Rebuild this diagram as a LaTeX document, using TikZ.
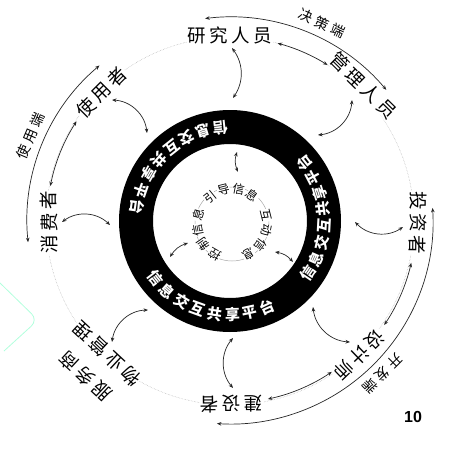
\documentclass[tikz,border=0pt]{standalone}
\usepackage{fontspec}
\newfontfamily\cjk{Noto Sans CJK SC}
\newfontfamily\numfont{Liberation Sans}
\usetikzlibrary{arrows.meta}
\newcommand{\chgap}{\kern3.5pt}
\newcommand{\arcchars}[7]{%
  \foreach \ch [count=\k] in {#7} {%
    \pgfmathsetmacro\ang{#3+(\k-1)*(#4)}%
    \pgfmathsetmacro\rot{\ang+#5}%
    \node[#6, rotate=\rot] (#1\k) at ([shift={(\ang:#2)}]C) {\ch};
  }%
}
\newcommand{\arccharsi}[7]{%
  \foreach \ch [count=\k] in {#7} {%
    \pgfmathsetmacro\ang{#3+(\k-1)*(#4)}%
    \pgfmathsetmacro\rot{\ang+#5}%
    \node[#6, rotate=\rot] (#1\k) at ([shift={(\ang:#2)}]Ci) {\ch};
  }%
}
\newcommand{\wordat}[5]{%
  \pgfmathsetmacro\rot{#3-90}%
  \node[#4, rotate=\rot] (#1) at ([shift={(#3:#2)}]C) {#5};
}
\begin{document}
\begin{tikzpicture}[x=1pt,y=1pt,
  lbl/.style={font=\cjk\fontsize{18.5}{18.5}\selectfont, inner sep=0.8pt, fill=white, text=black},
  endlbl/.style={font=\cjk\fontsize{14}{14}\selectfont, inner sep=0.5pt, text=black},
  ringtxt/.style={font=\cjk\bfseries\fontsize{15}{15}\selectfont, inner sep=0pt, text=white},
  innerlbl/.style={font=\cjk\fontsize{12}{12}\selectfont, inner sep=0.3pt, fill=white, text=black},
  tipx/.tip={Stealth[length=4.5pt,width=3.6pt]},
  link/.style={line width=0.7pt, black!85, tipx-tipx},
  guide/.style={gray!60, line width=0.5pt, densely dotted}
]
\useasboundingbox (0,0) rectangle (463,451);
\coordinate (C) at (230,230);
\coordinate (Ci) at (232,227);

% faint green edge at the left
\draw[green!45!cyan!30, line width=0.8pt, rounded corners=9pt] (0,168) -- (38,131) -- (4,100);

% outer guide circle
\draw[guide] (C) circle[radius=184];

% black ring
\fill[black, even odd rule] (C) circle[radius=111] (C) circle[radius=77];

% inner small circle
\draw[gray!70, line width=0.5pt] (Ci) circle[radius=37];

% ring text (three copies, counterclockwise, tops toward centre)
\arcchars{ra}{94}{96}{10.8}{90}{ringtxt}{信,息,交,互,共,享,平,台}
\arcchars{rb}{94}{-34}{10.3}{90}{ringtxt}{信,息,交,互,共,享,平,台}
\arcchars{rc}{94}{-142.5}{10.8}{90}{ringtxt}{信,息,交,互,共,享,平,台}

% outer labels (reading clockwise)
\wordat{yj}{186}{90}{lbl}{研\chgap 究\chgap 人\chgap 员}
\wordat{gl}{190}{45.5}{lbl}{管\chgap 理\chgap 人\chgap 员}
\wordat{tz}{188}{-0.5}{lbl}{投\chgap 资\chgap 者}
\wordat{sj}{186}{-46}{lbl}{设\chgap 计\chgap 师}
\wordat{js}{183}{-89.5}{lbl}{建\chgap 设\chgap 者}
\wordat{wa}{212}{-133}{lbl}{服\chgap 务\chgap 商}
\wordat{wb}{181}{-133}{lbl}{物\chgap 业\chgap 管\chgap 理}
\wordat{xf}{181}{180.5}{lbl}{消\chgap 费\chgap 者}
\wordat{sy}{182}{135}{lbl}{使\chgap 用\chgap 者}

% end labels
\wordat{jc}{218}{65}{endlbl}{决\chgap 策\chgap 端}
\wordat{syd}{217}{157}{endlbl}{使\chgap 用\chgap 端}
\wordat{kf}{216}{-45}{endlbl}{开\chgap 发\chgap 端}

% inner labels
\arccharsi{yd}{35}{129}{-25}{-90}{innerlbl}{引,导,信,息}
\arccharsi{hd}{35}{14}{-25}{-90}{innerlbl}{互,动,信,息}
\arccharsi{kz}{35}{240}{-25}{-90}{innerlbl}{控,制,信,息}

% outer end arcs
\draw[link] ([shift={(97:204)}]C) arc[start angle=97, end angle=40, radius=204];
\draw[link] ([shift={(130:203)}]C) arc[start angle=130, end angle=186, radius=203];
\draw[link] ([shift={(3.7:203)}]C) arc[start angle=3.7, end angle=-93.7, radius=203];

% arrows along the guide circle
\draw[link] ([shift={(75:184)}]C) arc[start angle=75, end angle=58, radius=184];
\draw[link] ([shift={(-13:186)}]C) arc[start angle=-13, end angle=-34, radius=186];
\draw[link] ([shift={(-56:182)}]C) arc[start angle=-56, end angle=-78, radius=182];
\draw[link] ([shift={(169:183)}]C) arc[start angle=169, end angle=147, radius=183];

% radial links
\coordinate (a1) at (232,403); \coordinate (b1) at (233,353);
\coordinate (a2) at (352,351); \coordinate (b2) at (318,316);
\coordinate (a3) at (112,351); \coordinate (b3) at (147,318);
\coordinate (a4) at (62,229);  \coordinate (b4) at (110,226);
\coordinate (a5) at (112,109); \coordinate (b5) at (148,141);
\coordinate (a6) at (233,113); \coordinate (b6) at (233,63);
\coordinate (a7) at (313,144); \coordinate (b7) at (350,109);
\coordinate (a8) at (355,229); \coordinate (b8) at (403,224);
\draw[link] (a1) to[bend left=35] (b1);
\draw[link] (a2) to[bend left=40] (b2);
\draw[link] (a3) to[bend left=40] (b3);
\draw[link] (a4) to[bend left=40] (b4);
\draw[link] (a5) to[bend left=40] (b5);
\draw[link] (a6) to[bend right=40] (b6);
\draw[link] (a7) to[bend right=40] (b7);
\draw[link] (a8) to[bend right=40] (b8);

% inner links
\coordinate (a9) at (237,299);  \coordinate (b9) at (238,279);
\coordinate (a10) at (170,194); \coordinate (b10) at (188,208);
\coordinate (a11) at (293,189); \coordinate (b11) at (275,199);
\draw[link] (a9) to[bend right=20] (b9);
\draw[link] (a10) to[bend left=20] (b10);
\draw[link] (a11) to[bend right=20] (b11);

% page number
\node[font=\numfont\bfseries\fontsize{16}{16}\selectfont, inner sep=0pt] (pg) at (413,34) {10};
\end{tikzpicture}
\end{document}
